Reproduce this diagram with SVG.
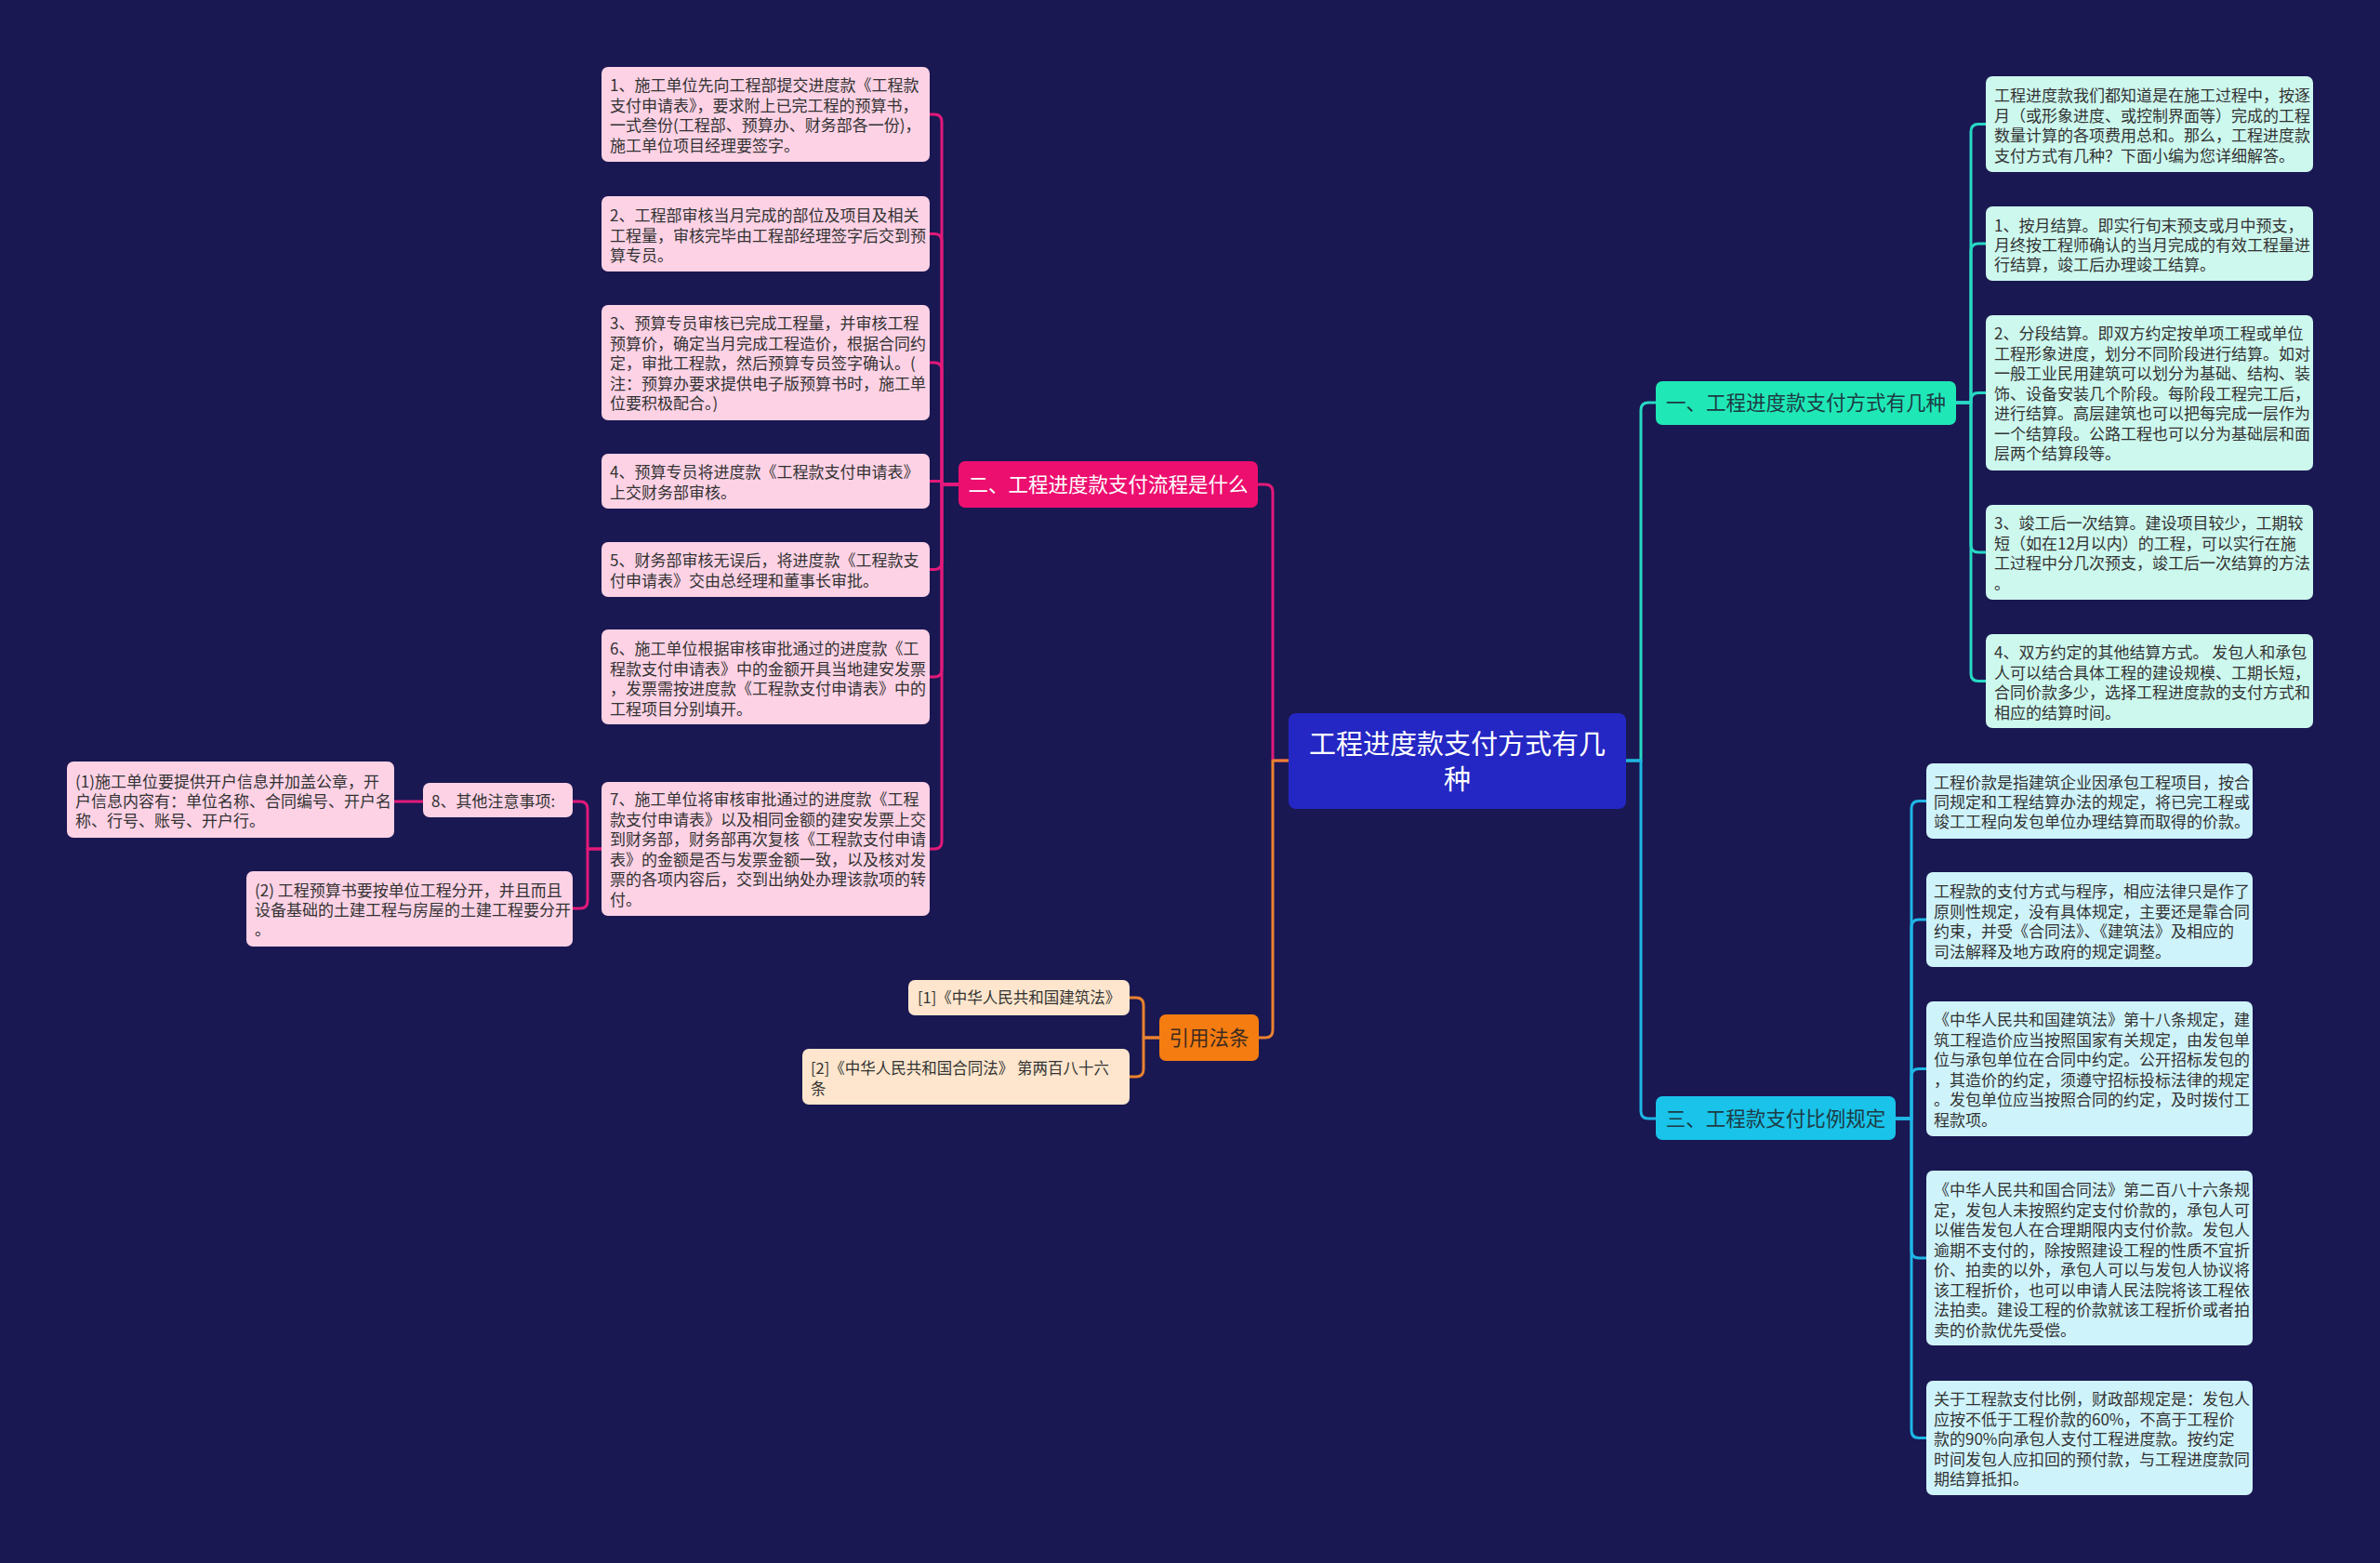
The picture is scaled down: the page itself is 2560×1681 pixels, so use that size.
<svg xmlns="http://www.w3.org/2000/svg" width="2560" height="1681" viewBox="0 0 2560 1681">
<style>
.t{font-family:"Noto Sans CJK SC","Noto Sans",sans-serif;font-size:17px;fill:#333333}
.b{font-family:"Noto Sans CJK SC","Noto Sans",sans-serif;font-size:21.5px}
.lp{fill:#fdd2e5}.lo{fill:#fde6cd}.lt{fill:#cdf8ee}.lc{fill:#cff3fb}
.c{fill:none;stroke-width:3;stroke-linejoin:round;stroke-linecap:round}
.cp{stroke:#e3197a}.co{stroke:#ea8230}.ct{stroke:#27d8c4}.cc{stroke:#1eb6e6}
</style>
<rect width="2560" height="1681" fill="#1a1852"/>
<g id="connectors">
<path class="c cp" d="M1386,818 H1369 V529 Q1369,521 1361,521 H1353"/>
<path class="c cp" d="M1031,521 H1013 V131 Q1013,123 1005,123 H1000"/>
<path class="c cp" d="M1031,521 H1013 V259.5 Q1013,251.5 1005,251.5 H1000"/>
<path class="c cp" d="M1031,521 H1013 V398 Q1013,390 1005,390 H1000"/>
<path class="c cp" d="M1031,521 H1013 V517.5 H1000"/>
<path class="c cp" d="M1031,521 H1013 V604.5 Q1013,612.5 1005,612.5 H1000"/>
<path class="c cp" d="M1031,521 H1013 V720 Q1013,728 1005,728 H1000"/>
<path class="c cp" d="M1031,521 H1013 V905 Q1013,913 1005,913 H1000"/>
<path class="c cp" d="M647,913 H632 V870 Q632,862 624,862 H616"/>
<path class="c cp" d="M647,913 H632 V969 Q632,977 624,977 H616"/>
<path class="c cp" d="M455,862 H424"/>
<path class="c co" d="M1386,818 H1369 V1108 Q1369,1116 1361,1116 H1354"/>
<path class="c co" d="M1247,1116 H1230 V1081 Q1230,1073 1222,1073 H1215"/>
<path class="c co" d="M1247,1116 H1230 V1150 Q1230,1158 1222,1158 H1215"/>
<path class="c ct" d="M1749,818 H1765 V441 Q1765,433 1773,433 H1781"/>
<path class="c cc" d="M1749,818 H1765 V1195 Q1765,1203 1773,1203 H1781"/>
<path class="c ct" d="M2104,433 H2120 V141.5 Q2120,133.5 2128,133.5 H2136"/>
<path class="c ct" d="M2104,433 H2120 V270 Q2120,262 2128,262 H2136"/>
<path class="c ct" d="M2104,433 H2120 V430.5 Q2120,422.5 2128,422.5 H2136"/>
<path class="c ct" d="M2104,433 H2120 V586 Q2120,594 2128,594 H2136"/>
<path class="c ct" d="M2104,433 H2120 V724.5 Q2120,732.5 2128,732.5 H2136"/>
<path class="c cc" d="M2039,1203 H2056 V869.5 Q2056,861.5 2064,861.5 H2072"/>
<path class="c cc" d="M2039,1203 H2056 V997 Q2056,989 2064,989 H2072"/>
<path class="c cc" d="M2039,1203 H2056 V1157.5 Q2056,1149.5 2064,1149.5 H2072"/>
<path class="c cc" d="M2039,1203 H2056 V1345 Q2056,1353 2064,1353 H2072"/>
<path class="c cc" d="M2039,1203 H2056 V1538.5 Q2056,1546.5 2064,1546.5 H2072"/>
</g>
<g id="root">
<rect x="1386" y="767" width="363" height="103" rx="8" fill="#2427c3"/>
<text class="b" style="font-size:29px" fill="#ffffff" text-anchor="middle"><tspan x="1567.5" y="810.5">工程进度款支付方式有几</tspan><tspan x="1567.5" y="848.5">种</tspan></text>
</g>
<g id="branch2">
<rect x="1031" y="496" width="322" height="50" rx="7" fill="#ec0f6f"/>
<text class="b" fill="#ffffff" text-anchor="middle" x="1192" y="529">二、工程进度款支付流程是什么</text>
</g>
<g id="p1"><rect class="lp" x="647" y="72" width="353" height="102" rx="7"/>
<text class="t"><tspan x="656" y="98">1、施工单位先向工程部提交进度款《工程款</tspan><tspan x="656" y="119.5">支付申请表》，要求附上已完工程的预算书，</tspan><tspan x="656" y="141">一式叁份(工程部、预算办、财务部各一份)，</tspan><tspan x="656" y="162.5">施工单位项目经理要签字。</tspan></text></g>
<g id="p2"><rect class="lp" x="647" y="211" width="353" height="81" rx="7"/>
<text class="t"><tspan x="656" y="238">2、工程部审核当月完成的部位及项目及相关</tspan><tspan x="656" y="259.5">工程量，审核完毕由工程部经理签字后交到预</tspan><tspan x="656" y="281">算专员。</tspan></text></g>
<g id="p3"><rect class="lp" x="647" y="328" width="353" height="124" rx="7"/>
<text class="t"><tspan x="656" y="354">3、预算专员审核已完成工程量，并审核工程</tspan><tspan x="656" y="375.5">预算价，确定当月完成工程造价，根据合同约</tspan><tspan x="656" y="397">定，审批工程款，然后预算专员签字确认。(</tspan><tspan x="656" y="418.5">注：预算办要求提供电子版预算书时，施工单</tspan><tspan x="656" y="440">位要积极配合。)</tspan></text></g>
<g id="p4"><rect class="lp" x="647" y="488" width="353" height="59" rx="7"/>
<text class="t"><tspan x="656" y="514">4、预算专员将进度款《工程款支付申请表》</tspan><tspan x="656" y="536">上交财务部审核。</tspan></text></g>
<g id="p5"><rect class="lp" x="647" y="583" width="353" height="59" rx="7"/>
<text class="t"><tspan x="656" y="609">5、财务部审核无误后，将进度款《工程款支</tspan><tspan x="656" y="631">付申请表》交由总经理和董事长审批。</tspan></text></g>
<g id="p6"><rect class="lp" x="647" y="677" width="353" height="102" rx="7"/>
<text class="t"><tspan x="656" y="704">6、施工单位根据审核审批通过的进度款《工</tspan><tspan x="656" y="725.5">程款支付申请表》中的金额开具当地建安发票</tspan><tspan x="656" y="747">，发票需按进度款《工程款支付申请表》中的</tspan><tspan x="656" y="768.5">工程项目分别填开。</tspan></text></g>
<g id="p7"><rect class="lp" x="647" y="841" width="353" height="144" rx="7"/>
<text class="t"><tspan x="656" y="866">7、施工单位将审核审批通过的进度款《工程</tspan><tspan x="656" y="887.5">款支付申请表》以及相同金额的建安发票上交</tspan><tspan x="656" y="909">到财务部，财务部再次复核《工程款支付申请</tspan><tspan x="656" y="930.5">表》的金额是否与发票金额一致，以及核对发</tspan><tspan x="656" y="952">票的各项内容后，交到出纳处办理该款项的转</tspan><tspan x="656" y="973.5">付。</tspan></text></g>
<g id="p8"><rect class="lp" x="455" y="842" width="161" height="37" rx="7"/>
<text class="t" x="464" y="868">8、其他注意事项:</text></g>
<g id="p8a"><rect class="lp" x="72" y="819" width="352" height="82" rx="7"/>
<text class="t"><tspan x="81" y="847">(1)施工单位要提供开户信息并加盖公章，开</tspan><tspan x="81" y="868">户信息内容有：单位名称、合同编号、开户名</tspan><tspan x="81" y="889">称、行号、账号、开户行。</tspan></text></g>
<g id="p8b"><rect class="lp" x="265" y="937" width="351" height="81" rx="7"/>
<text class="t"><tspan x="274" y="964">(2) 工程预算书要按单位工程分开，并且而且</tspan><tspan x="274" y="985">设备基础的土建工程与房屋的土建工程要分开</tspan><tspan x="274" y="1006">。</tspan></text></g>
<g id="branchLaw">
<rect x="1247" y="1091" width="107" height="50" rx="7" fill="#f57c11"/>
<text class="b" fill="#3d2b1f" text-anchor="middle" x="1300.5" y="1124">引用法条</text>
</g>
<g id="law1"><rect class="lo" x="977" y="1054" width="238" height="38" rx="7"/>
<text class="t" style="font-size:16.5px" x="987" y="1079">[1]《中华人民共和国建筑法》</text></g>
<g id="law2"><rect class="lo" x="863" y="1128" width="352" height="60" rx="7"/>
<text class="t" style="font-size:16.5px"><tspan x="872" y="1155">[2]《中华人民共和国合同法》 第两百八十六</tspan><tspan x="872" y="1177">条</tspan></text></g>
<g id="branch1">
<rect x="1781" y="410" width="323" height="47" rx="7" fill="#1fe8b6"/>
<text class="b" fill="#1d3b44" text-anchor="middle" x="1942.5" y="441">一、工程进度款支付方式有几种</text>
</g>
<g id="r1"><rect class="lt" x="2136" y="82" width="352" height="103" rx="7"/>
<text class="t"><tspan x="2145" y="109">工程进度款我们都知道是在施工过程中，按逐</tspan><tspan x="2145" y="130.5">月（或形象进度、或控制界面等）完成的工程</tspan><tspan x="2145" y="152">数量计算的各项费用总和。那么，工程进度款</tspan><tspan x="2145" y="173.5">支付方式有几种？下面小编为您详细解答。</tspan></text></g>
<g id="r2"><rect class="lt" x="2136" y="222" width="352" height="80" rx="7"/>
<text class="t"><tspan x="2145" y="249">1、按月结算。即实行旬末预支或月中预支，</tspan><tspan x="2145" y="270">月终按工程师确认的当月完成的有效工程量进</tspan><tspan x="2145" y="291">行结算，竣工后办理竣工结算。</tspan></text></g>
<g id="r3"><rect class="lt" x="2136" y="339" width="352" height="167" rx="7"/>
<text class="t"><tspan x="2145" y="365">2、分段结算。即双方约定按单项工程或单位</tspan><tspan x="2145" y="386.5">工程形象进度，划分不同阶段进行结算。如对</tspan><tspan x="2145" y="408">一般工业民用建筑可以划分为基础、结构、装</tspan><tspan x="2145" y="429.5">饰、设备安装几个阶段。每阶段工程完工后，</tspan><tspan x="2145" y="451">进行结算。高层建筑也可以把每完成一层作为</tspan><tspan x="2145" y="472.5">一个结算段。公路工程也可以分为基础层和面</tspan><tspan x="2145" y="494">层两个结算段等。</tspan></text></g>
<g id="r4"><rect class="lt" x="2136" y="543" width="352" height="102" rx="7"/>
<text class="t"><tspan x="2145" y="569">3、竣工后一次结算。建设项目较少，工期较</tspan><tspan x="2145" y="590.5">短（如在12月以内）的工程，可以实行在施</tspan><tspan x="2145" y="612">工过程中分几次预支，竣工后一次结算的方法</tspan><tspan x="2145" y="633.5">。</tspan></text></g>
<g id="r5"><rect class="lt" x="2136" y="682" width="352" height="101" rx="7"/>
<text class="t"><tspan x="2145" y="708">4、双方约定的其他结算方式。 发包人和承包</tspan><tspan x="2145" y="729.5">人可以结合具体工程的建设规模、工期长短，</tspan><tspan x="2145" y="751">合同价款多少，选择工程进度款的支付方式和</tspan><tspan x="2145" y="772.5">相应的结算时间。</tspan></text></g>
<g id="branch3">
<rect x="1781" y="1179" width="258" height="47" rx="7" fill="#19c3ea"/>
<text class="b" fill="#1d3b44" text-anchor="middle" x="1910" y="1211">三、工程款支付比例规定</text>
</g>
<g id="s1"><rect class="lc" x="2072" y="821" width="351" height="81" rx="7"/>
<text class="t"><tspan x="2080" y="848">工程价款是指建筑企业因承包工程项目，按合</tspan><tspan x="2080" y="869">同规定和工程结算办法的规定，将已完工程或</tspan><tspan x="2080" y="890">竣工工程向发包单位办理结算而取得的价款。</tspan></text></g>
<g id="s2"><rect class="lc" x="2072" y="938" width="351" height="102" rx="7"/>
<text class="t"><tspan x="2080" y="965">工程款的支付方式与程序，相应法律只是作了</tspan><tspan x="2080" y="986.5">原则性规定，没有具体规定，主要还是靠合同</tspan><tspan x="2080" y="1008">约束，并受《合同法》、《建筑法》及相应的</tspan><tspan x="2080" y="1029.5">司法解释及地方政府的规定调整。</tspan></text></g>
<g id="s3"><rect class="lc" x="2072" y="1077" width="351" height="145" rx="7"/>
<text class="t"><tspan x="2080" y="1103">《中华人民共和国建筑法》第十八条规定，建</tspan><tspan x="2080" y="1124.5">筑工程造价应当按照国家有关规定，由发包单</tspan><tspan x="2080" y="1146">位与承包单位在合同中约定。公开招标发包的</tspan><tspan x="2080" y="1167.5">，其造价的约定，须遵守招标投标法律的规定</tspan><tspan x="2080" y="1189">。发包单位应当按照合同的约定，及时拨付工</tspan><tspan x="2080" y="1210.5">程款项。</tspan></text></g>
<g id="s4"><rect class="lc" x="2072" y="1259" width="351" height="188" rx="7"/>
<text class="t"><tspan x="2080" y="1286">《中华人民共和国合同法》第二百八十六条规</tspan><tspan x="2080" y="1307.5">定，发包人未按照约定支付价款的，承包人可</tspan><tspan x="2080" y="1329">以催告发包人在合理期限内支付价款。发包人</tspan><tspan x="2080" y="1350.5">逾期不支付的，除按照建设工程的性质不宜折</tspan><tspan x="2080" y="1372">价、拍卖的以外，承包人可以与发包人协议将</tspan><tspan x="2080" y="1393.5">该工程折价，也可以申请人民法院将该工程依</tspan><tspan x="2080" y="1415">法拍卖。建设工程的价款就该工程折价或者拍</tspan><tspan x="2080" y="1436.5">卖的价款优先受偿。</tspan></text></g>
<g id="s5"><rect class="lc" x="2072" y="1485" width="351" height="123" rx="7"/>
<text class="t"><tspan x="2080" y="1511">关于工程款支付比例，财政部规定是：发包人</tspan><tspan x="2080" y="1532.5">应按不低于工程价款的60%，不高于工程价</tspan><tspan x="2080" y="1554">款的90%向承包人支付工程进度款。按约定</tspan><tspan x="2080" y="1575.5">时间发包人应扣回的预付款，与工程进度款同</tspan><tspan x="2080" y="1597">期结算抵扣。</tspan></text></g>
</svg>
